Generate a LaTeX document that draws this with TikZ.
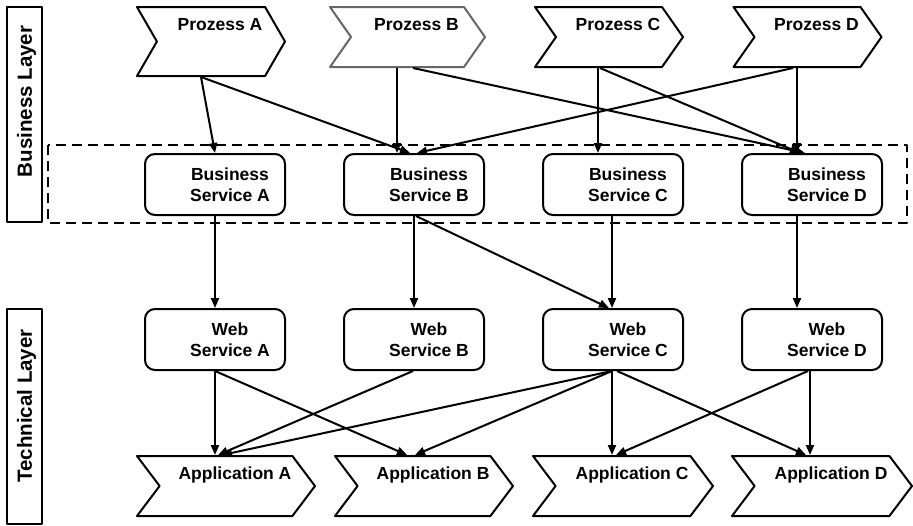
\documentclass[tikz,border=0pt]{standalone}
\usepackage{fontspec}
\setmainfont{Liberation Sans}
\usetikzlibrary{arrows.meta,shapes.symbols}

\begin{document}
\begin{tikzpicture}[x=1pt,y=-1pt,>={Triangle[length=10pt,width=8pt]},line join=round,
    font=\bfseries\fontsize{17.5}{21}\selectfont,
    every node/.style={line width=2pt},
    svc/.style={draw,rounded corners=10pt,minimum width=140pt,minimum height=61pt,inner sep=0pt,
        label={[align=center,xshift=15pt,text depth=0pt]center:#1}},
    chev/.style={draw,shape=signal,signal from=west,signal to=east,inner sep=0pt,
        label={[anchor=center,xshift=9pt,yshift=-18pt,text depth=0pt]north:#1}},
    proc/.style={chev=#1,minimum width=148pt,minimum height=60pt,signal pointer angle=110},
    app/.style={chev=#1,minimum width=180pt,minimum height=60pt,signal pointer angle=106},
    layer/.style={draw,minimum width=35pt,minimum height=215pt,inner sep=0pt},
    link/.style={->,line width=2pt}]
    \useasboundingbox (0,0) rectangle (913,525);
    \def\layerfont{\bfseries\fontsize{20.5}{24}\selectfont}
    % layers
    \node[layer,label={[yshift=13pt,rotate=90,font=\layerfont,text depth=0pt]center:Business Layer}] (BL) at (24.5,114.5) {};
    \node[layer,label={[yshift=10.5pt,rotate=90,font=\layerfont,text depth=0pt]center:Technical Layer}] (TL) at (24.5,416.5) {};
    % processes
    \node[proc=Prozess A,minimum height=69pt,signal pointer angle=120] (PA) at (211,41.5) {};
    \node[proc=Prozess B,draw=black!60,minimum width=155pt] (PB) at (407.5,37) {};
    \node[proc=Prozess C] (PC) at (609,37) {};
    \node[proc=Prozess D] (PD) at (807.5,37) {};
    % business services
    \node[svc=Business\\Service A] (BSA) at (215,184.5) {};
    \node[svc=Business\\Service B] (BSB) at (414,184.5) {};
    \node[svc=Business\\Service C] (BSC) at (613,184.5) {};
    \node[svc=Business\\Service D] (BSD) at (812,184.5) {};
    \draw[line width=2pt,dash pattern=on 10pt off 6pt]
        ([xshift=-96pt,yshift=8pt]BSA.north west) rectangle ([xshift=24pt,yshift=-7pt]BSD.south east);
    % web services
    \node[svc=Web\\Service A] (WSA) at (215,339.5) {};
    \node[svc=Web\\Service B] (WSB) at (414,339.5) {};
    \node[svc=Web\\Service C] (WSC) at (613,339.5) {};
    \node[svc=Web\\Service D] (WSD) at (812,339.5) {};
    % applications
    \node[app=Application A,minimum width=178pt] (APA) at (226,486) {};
    \node[app=Application B,minimum width=178pt] (APB) at (424,486) {};
    \node[app=Application C] (APC) at (623,486) {};
    \node[app=Application D] (APD) at (822,486) {};
    % process -> business service
    \draw[link] ([xshift=-10pt]PA.south) -- (BSA.north);
    \draw[link] ([xshift=-10pt]PA.south) -- ([xshift=-4pt]BSB.north);
    \draw[link] ([xshift=-10.5pt]PB.south) -- ([xshift=-17pt]BSB.north);
    \draw[link] ([xshift=5.5pt]PB.south) -- ([xshift=-7pt]BSD.north);
    \draw[link] ([xshift=-11pt]PC.south) -- ([xshift=-15pt]BSC.north);
    \draw[link] ([xshift=-9pt]PC.south) -- ([xshift=-12pt]BSD.north);
    \draw[link] ([xshift=-10.5pt]PD.south) -- ([xshift=-15pt]BSD.north);
    \draw[link] ([xshift=-14.5pt]PD.south) -- ([xshift=3pt]BSB.north);
    % business service -> web service
    \draw[link] (BSA.south) -- (WSA.north);
    \draw[link] (BSB.south) -- (WSB.north);
    \draw[link] ([xshift=2pt]BSB.south) -- ([xshift=-4pt]WSC.north);
    \draw[link] ([xshift=-1pt]BSC.south) -- ([xshift=-1pt]WSC.north);
    \draw[link] ([xshift=-15pt]BSD.south) -- ([xshift=-15pt]WSD.north);
    % web service -> application
    \draw[link] (WSA.south) -- ([xshift=-11pt]APA.north);
    \draw[link] (WSA.south) -- ([xshift=-17pt]APB.north);
    \draw[link] ([xshift=-1pt]WSB.south) -- ([xshift=-8pt]APA.north);
    \draw[link] ([xshift=-1pt]WSC.south) -- ([xshift=-4pt]APA.north);
    \draw[link] ([xshift=-1pt]WSC.south) -- ([xshift=-9pt]APB.north);
    \draw[link] ([xshift=-1pt]WSC.south) -- ([xshift=-11pt]APC.north);
    \draw[link] ([xshift=4pt]WSC.south) -- ([xshift=-16pt]APD.north);
    \draw[link] ([xshift=-4pt]WSD.south) -- ([xshift=-7pt]APC.north);
    \draw[link] ([xshift=-2pt]WSD.south) -- ([xshift=-12pt]APD.north);
\end{tikzpicture}
\end{document}
